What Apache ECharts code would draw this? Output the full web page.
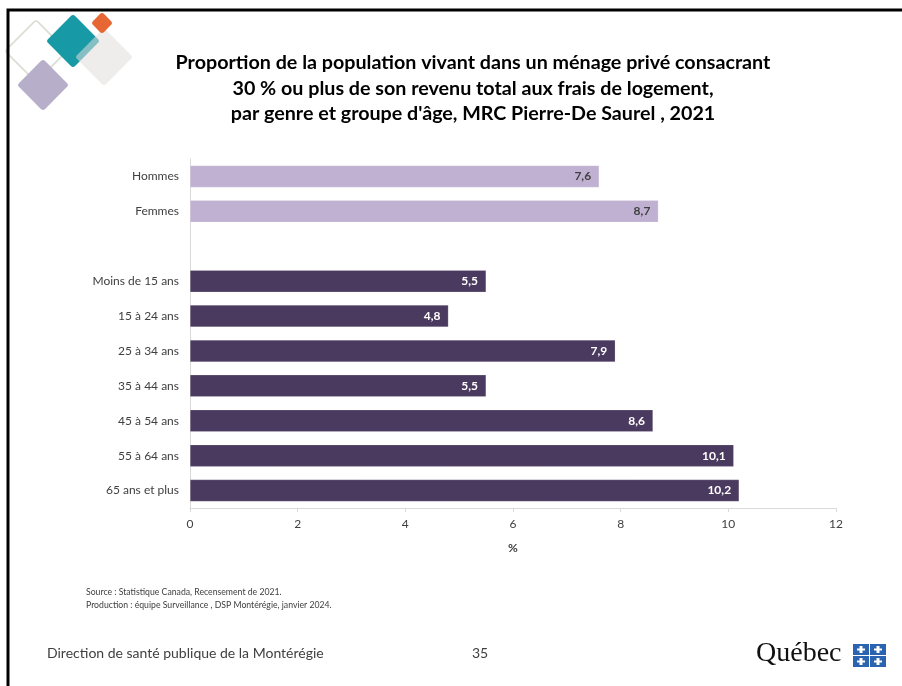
<!DOCTYPE html>
<html><head><meta charset="utf-8">
<script src="https://cdn.jsdelivr.net/npm/echarts@6/dist/echarts.min.js"></script>
<style>html,body{margin:0;padding:0;background:#fff}#c{width:902px;height:686px}</style>
</head><body><div id="c"></div>
<script>
const genderCategories = ['Hommes', 'Femmes'];
const genderValues = [7.6, 8.7];
const ageCategories = ['Moins de 15 ans', '15 à 24 ans', '25 à 34 ans', '35 à 44 ans', '45 à 54 ans', '55 à 64 ans', '65 ans et plus'];
const ageValues = [5.5, 4.8, 7.9, 5.5, 8.6, 10.1, 10.2];
const xTicks = [0, 2, 4, 6, 8, 10, 12];

const lightColor = '#c0b1d2';
const darkColor = '#4b3a5f';
const categories = genderCategories.concat([''], ageCategories);
const data = [];
genderValues.forEach(v => data.push({value: v, itemStyle: {color: lightColor}, label: {color: '#404040'}}));
data.push({value: null});
ageValues.forEach(v => data.push({value: v, itemStyle: {color: darkColor}, label: {color: '#ffffff'}}));

const F = 'Lato, "Open Sans", sans-serif';
function diamond(cx, cy, h, style, z) {
  const s = h * Math.SQRT2;
  return {type: 'rect', x: cx, y: cy, rotation: Math.PI / 4, originX: 0, originY: 0,
    shape: {x: -s / 2, y: -s / 2, width: s, height: s, r: 3}, style: style, z: z || 1};
}
const flag = [];
[[853, 644], [870, 644], [853, 656], [870, 656]].forEach(([x, y]) => {
  flag.push({type: 'rect', shape: {x: x, y: y, width: 16, height: 11}, style: {fill: '#2a63b0'}});
  flag.push({type: 'rect', shape: {x: x + 6.5, y: y + 2, width: 3, height: 7}, style: {fill: '#fff'}});
  flag.push({type: 'rect', shape: {x: x + 4, y: y + 4.5, width: 8, height: 2}, style: {fill: '#fff'}});
});
const chart = echarts.init(document.getElementById('c'), null, {renderer: 'canvas'});
chart.setOption({
  animation: false,
  backgroundColor: '#ffffff',
  title: {
    text: 'Proportion de la population vivant dans un ménage privé consacrant\n30 % ou plus de son revenu total aux frais de logement,\npar genre et groupe d\'âge, MRC Pierre-De Saurel , 2021',
    left: 468, top: 45, textAlign: 'center',
    textStyle: {fontFamily: F, fontSize: 19.7, fontWeight: 'bold', color: '#000', lineHeight: 25.5}
  },
  grid: {left: 190, right: 66, top: 159, bottom: 178, containLabel: false},
  xAxis: {
    type: 'value', min: 0, max: 12, interval: 2,
    name: '%', nameLocation: 'middle', nameGap: 34,
    nameTextStyle: {fontFamily: F, fontSize: 12, fontWeight: 'bold', color: '#404040'},
    axisLine: {show: true, lineStyle: {color: '#d9d9d9', width: 1}},
    axisTick: {show: true, length: 4, lineStyle: {color: '#d9d9d9'}},
    splitLine: {show: false},
    axisLabel: {fontFamily: F, fontSize: 12, color: '#404040', margin: 10}
  },
  yAxis: {
    type: 'category', data: categories, inverse: true,
    axisLine: {show: true, lineStyle: {color: '#d9d9d9'}},
    axisTick: {show: false},
    axisLabel: {fontFamily: F, fontSize: 12, color: '#404040', margin: 11}
  },
  series: [{
    type: 'bar', data: data, barWidth: 22,
    itemStyle: {borderColor: 'rgba(255,255,255,0.35)', borderWidth: 0.5},
    label: {show: true, position: 'insideRight', distance: 8, fontFamily: F, fontSize: 12, fontWeight: 'bold',
      formatter: p => p.value == null ? '' : String(p.value).replace('.', ',')}
  }],
  graphic: [
    {type: 'polyline', shape: {points: [[8, 686], [8, 10], [902, 10]]}, style: {stroke: '#000', lineWidth: 3, fill: null}, z: 10},
    diamond(36, 51, 31, {fill: null, stroke: '#d9ddd3', lineWidth: 1.5}, 1),
    diamond(43, 85, 26, {fill: '#b7afc9'}, 2),
    diamond(73, 41, 27, {fill: '#1799a6'}, 3),
    diamond(104, 57, 29, {fill: 'rgba(226,222,219,0.55)'}, 4),
    diamond(102, 23, 11, {fill: 'rgba(228,90,35,0.92)'}, 5),
    {type: 'text', left: 86, top: 586, style: {text: 'Source : Statistique Canada, Recensement de 2021.\nProduction : équipe Surveillance , DSP Montérégie, janvier 2024.', fontFamily: F, fontSize: 8.7, lineHeight: 12.5, fill: '#404040'}},
    {type: 'text', left: 47, top: 646, style: {text: 'Direction de santé publique de la Montérégie', fontFamily: F, fontSize: 14, fill: '#404040'}},
    {type: 'text', left: 472, top: 646, style: {text: '35', fontFamily: F, fontSize: 14, fill: '#404040'}},
    {type: 'text', left: 756, top: 640, style: {text: 'Québec', fontFamily: '"Liberation Serif", serif', fontSize: 28, fill: '#111'}}
  ].concat(flag)
});
</script></body></html>
